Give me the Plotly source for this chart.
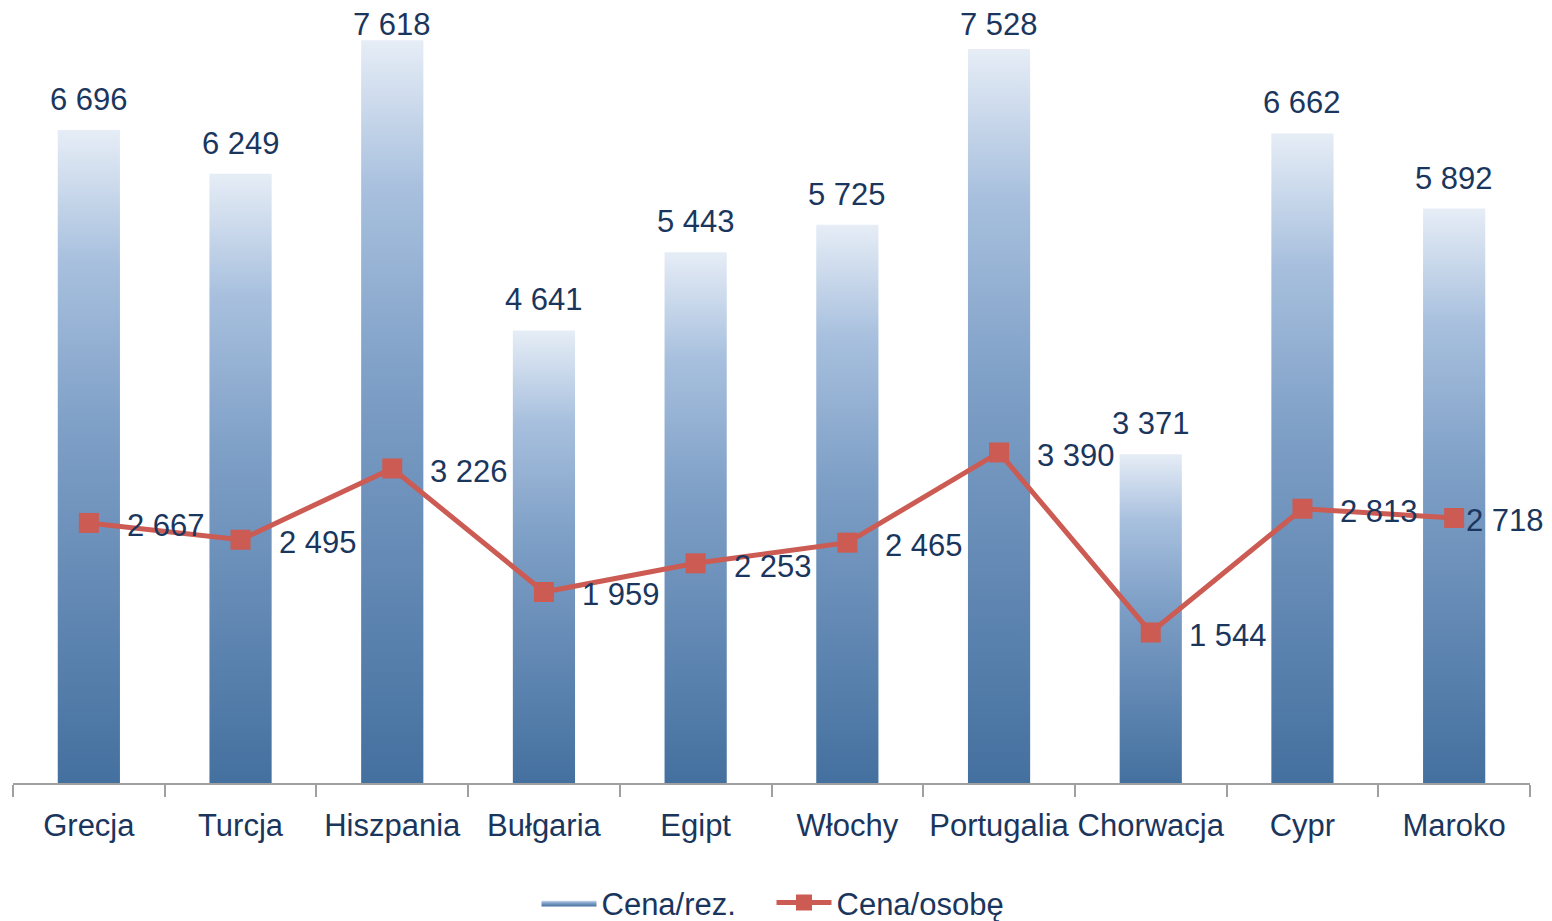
import plotly.graph_objects as go

countries = ['Grecja', 'Turcja', 'Hiszpania', 'Bułgaria', 'Egipt', 'Włochy',
             'Portugalia', 'Chorwacja', 'Cypr', 'Maroko']
cena_rez = [6696, 6249, 7618, 4641, 5443, 5725, 7528, 3371, 6662, 5892]
cena_osobe = [2667, 2495, 3226, 1959, 2253, 2465, 3390, 1544, 2813, 2718]


def fmt(v):
    # thousands separated by a space, like in the source
    return f'{v:,}'.replace(',', ' ')


TEXT = '#1b365d'
RED = '#cb5b53'
FS = 31
BAR_SCALE = [[0, '#44709f'], [0.55, '#7fa0c7'], [0.8, '#a8c0de'], [1, '#e6edf6']]
half = 0.205
LABEL_CAP = 7470  # tall bars get their label pushed down to stay in the chart

fig = go.Figure()

for i, (name, v) in enumerate(zip(countries, cena_rez)):
    fig.add_trace(go.Scatter(
        x=[i - half, i - half, i + half, i + half, i - half],
        y=[0, v, v, 0, 0],
        mode='lines',
        line=dict(width=0),
        fill='toself',
        fillgradient=dict(type='vertical', colorscale=BAR_SCALE),
        name='Cena/rez.',
        legendgroup='rez',
        showlegend=(i == 0),
        hoverinfo='skip',
    ))
    fig.add_annotation(x=i, y=min(v, LABEL_CAP), text=fmt(v), showarrow=False,
                       yanchor='bottom', yshift=11,
                       font=dict(size=FS, color=TEXT))

fig.add_trace(go.Scatter(
    x=list(range(len(countries))),
    y=cena_osobe,
    mode='lines+markers',
    line=dict(color=RED, width=5),
    marker=dict(symbol='square', size=20, color=RED),
    name='Cena/osobę',
))
last = len(cena_osobe) - 1
for i, v in enumerate(cena_osobe):
    # the last label sits on top of its marker so it fits at the edge
    fig.add_annotation(x=i, y=v, text=fmt(v), showarrow=False,
                       xanchor='left', xshift=(10 if i == last else 36),
                       yshift=-3, font=dict(size=FS, color=TEXT))

fig.update_xaxes(
    range=[-0.5, len(countries) - 0.5],
    tickvals=list(range(len(countries))),
    ticktext=countries,
    ticks='',
    ticklabelstandoff=14,
    minor=dict(tick0=-0.5, dtick=1, ticks='outside', ticklen=12,
               tickwidth=2, tickcolor='#a0a0a0'),
    showline=True, linecolor='#a0a0a0', linewidth=2,
    showgrid=False, zeroline=False,
    tickfont=dict(size=FS, color=TEXT),
)
fig.update_yaxes(range=[0, 7928], visible=False, showgrid=False)

# page body has an 8px margin, so the figure is a bit smaller than the window
fig.update_layout(
    width=1544, height=913,
    margin=dict(l=5, r=22, t=2, b=138, autoexpand=False),
    paper_bgcolor='white',
    plot_bgcolor='white',
    font=dict(family='Liberation Sans, Arial, sans-serif', size=FS, color=TEXT),
    legend=dict(orientation='h', x=0.5, xanchor='center', y=-0.155,
                yanchor='middle', font=dict(size=FS, color=TEXT),
                itemwidth=55, entrywidth=165),
)

fig.write_html('out.html')
